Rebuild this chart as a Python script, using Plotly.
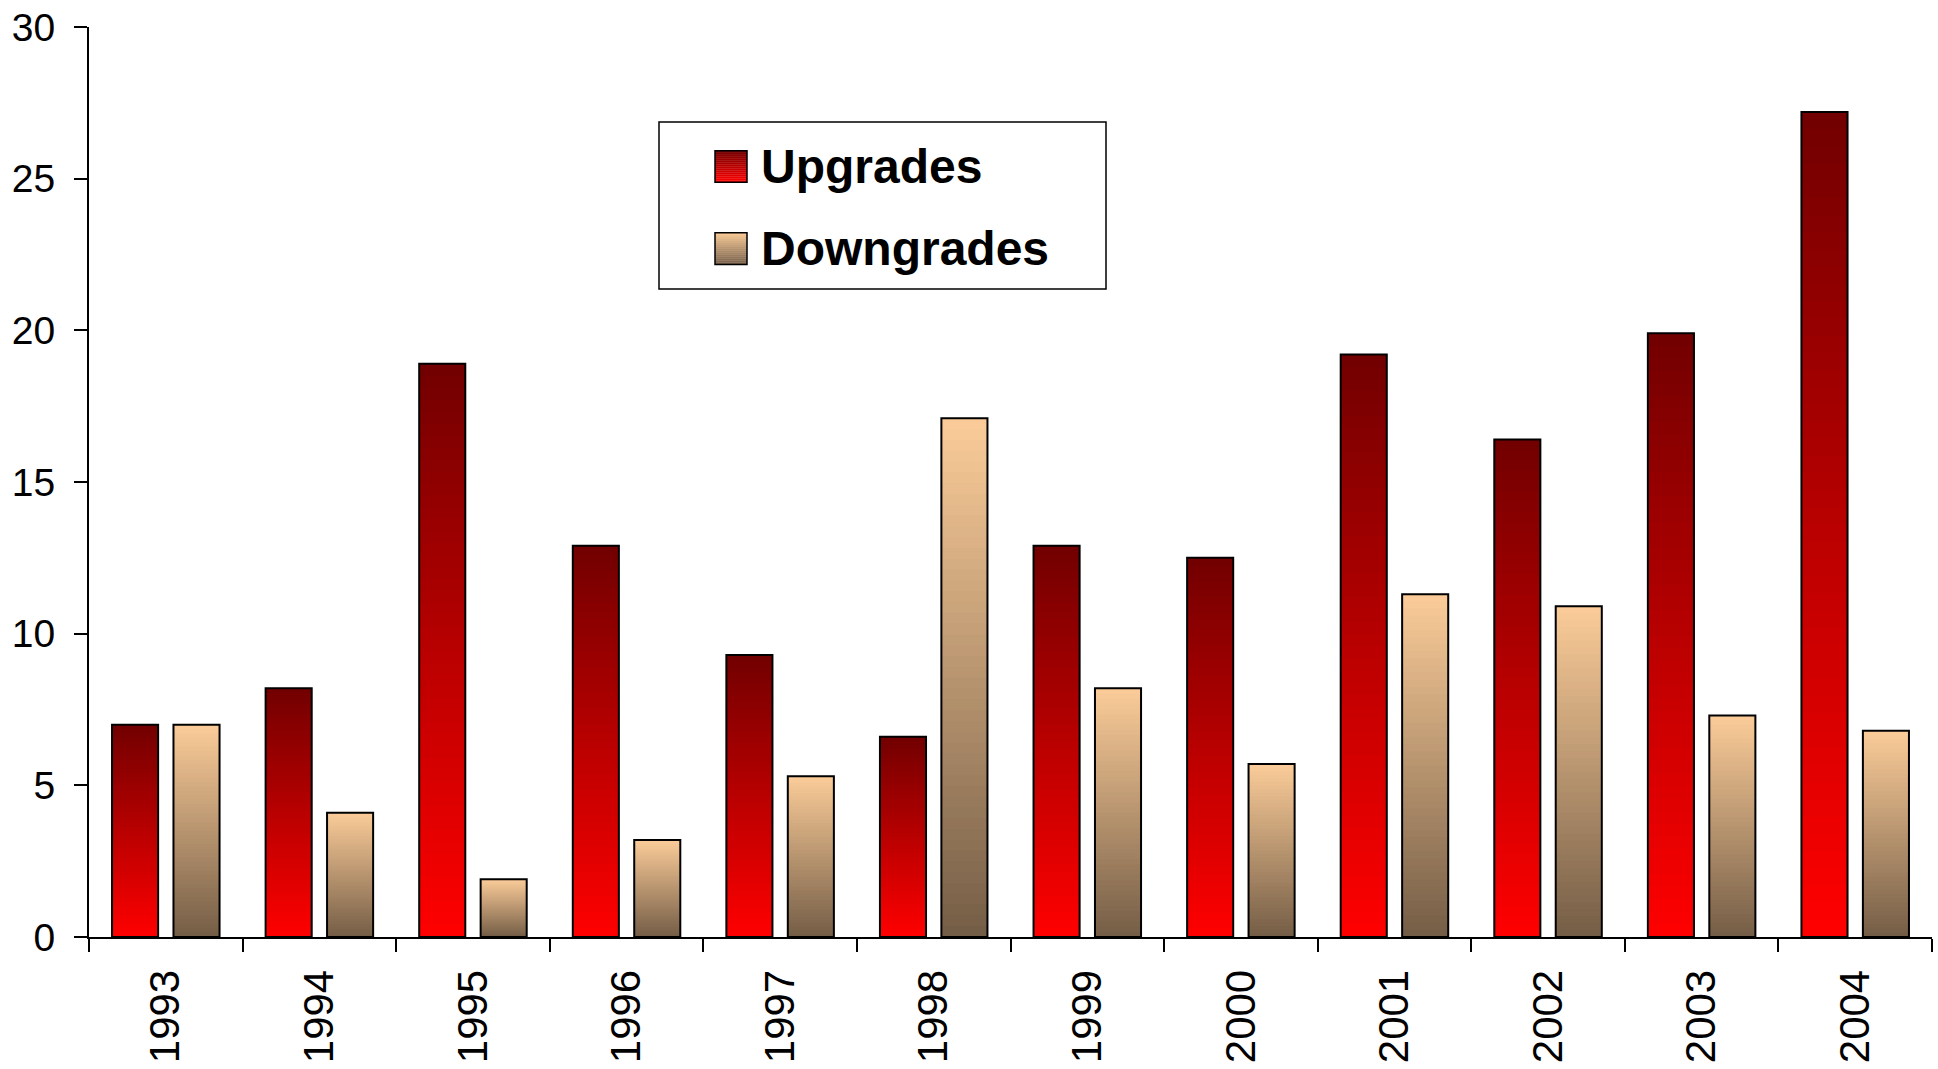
import plotly.graph_objects as go

# ---------------- data ----------------
years = ["1993", "1994", "1995", "1996", "1997", "1998",
         "1999", "2000", "2001", "2002", "2003", "2004"]
upgrades = [7.0, 8.2, 18.9, 12.9, 9.3, 6.6, 12.9, 12.5, 19.2, 16.4, 19.9, 27.2]
downgrades = [7.0, 4.1, 1.9, 3.2, 5.3, 17.1, 8.2, 5.7, 11.3, 10.9, 7.3, 6.8]
series_names = ["Upgrades", "Downgrades"]
y_ticks = [0, 5, 10, 15, 20, 25, 30]

# ---------------- style ----------------
W, H = 1938, 1069
ML, MR, MT, MB = 89, 6, 22, 127
UP_BOTTOM, UP_TOP = (255, 0, 0), (114, 0, 0)
DN_BOTTOM, DN_TOP = (116, 93, 70), (251, 204, 153)
N_STEPS = 48
BAR_W = 0.30
FONT = "Liberation Sans, Arial, sans-serif"


def mix(c0, c1, t):
    return "rgb(%d,%d,%d)" % tuple(round(a + (b - a) * t) for a, b in zip(c0, c1))


def px_x(px):
    return (px - ML) / (W - ML - MR)


def px_y(py):
    return (H - MB - py) / (H - MT - MB)


fig = go.Figure()

specs = [
    (upgrades, -0.35, UP_BOTTOM, UP_TOP),
    (downgrades, 0.05, DN_BOTTOM, DN_TOP),
]

for vals, off, cb, ct in specs:
    # gradient: overlapping bars from full height down
    for k in range(N_STEPS):
        frac = (N_STEPS - k) / N_STEPS
        t = (N_STEPS - k - 0.5) / N_STEPS
        fig.add_trace(go.Bar(
            x=years, y=[v * frac for v in vals], base=0,
            offset=off, width=BAR_W,
            marker=dict(color=mix(cb, ct, t), line=dict(width=0)),
            showlegend=False, hoverinfo="skip",
        ))
    # outline
    fig.add_trace(go.Bar(
        x=years, y=vals, base=0, offset=off, width=BAR_W,
        marker=dict(color="rgba(0,0,0,0)", line=dict(color="black", width=2)),
        showlegend=False, hoverinfo="skip",
    ))

# ---------------- custom legend ----------------
shapes = []
annotations = []
shapes.append(dict(type="rect", xref="paper", yref="paper",
                   x0=px_x(659), x1=px_x(1106), y0=px_y(287), y1=px_y(118),
                   line=dict(color="black", width=1.5), fillcolor="white", layer="above"))

legend_items = [
    (series_names[0], 147, 179, UP_BOTTOM, UP_TOP, 163),
    (series_names[1], 230, 262, DN_BOTTOM, DN_TOP, 246),
]
n_sw = 16
for name, top, bot, cb, ct, ty in legend_items:
    hgt = (bot - top) / n_sw
    for i in range(n_sw):
        t = 1 - (i + 0.5) / n_sw
        shapes.append(dict(type="rect", xref="paper", yref="paper",
                           x0=px_x(715), x1=px_x(747),
                           y0=px_y(top + (i + 1) * hgt + 0.3), y1=px_y(top + i * hgt),
                           line=dict(width=0), fillcolor=mix(cb, ct, t), layer="above"))
    shapes.append(dict(type="rect", xref="paper", yref="paper",
                       x0=px_x(715), x1=px_x(747), y0=px_y(bot), y1=px_y(top),
                       line=dict(color="black", width=1.5), fillcolor="rgba(0,0,0,0)",
                       layer="above"))
    annotations.append(dict(text="<b>%s</b>" % name, xref="paper", yref="paper",
                            x=px_x(759), y=px_y(ty), xanchor="left", yanchor="middle",
                            showarrow=False, font=dict(family=FONT, size=48, color="black")))

fig.update_layout(
    width=W, height=H,
    margin=dict(l=ML, r=MR, t=MT, b=MB, pad=0),
    barmode="overlay",
    plot_bgcolor="white", paper_bgcolor="white",
    showlegend=False,
    shapes=shapes, annotations=annotations,
    font=dict(family=FONT, color="black"),
)

fig.update_xaxes(
    type="category", categoryorder="array", categoryarray=years,
    showline=True, linecolor="black", linewidth=2,
    ticks="outside", tickson="boundaries", ticklen=13, tickwidth=2, tickcolor="black",
    tickangle=-90, tickfont=dict(family=FONT, size=42, color="black"),
    ticklabelstandoff=14,
    showgrid=False, zeroline=False,
)
fig.update_yaxes(
    range=[0, 30], tickvals=y_ticks, ticktext=[str(v) for v in y_ticks],
    showline=True, linecolor="black", linewidth=2,
    ticks="outside", ticklen=13, tickwidth=2, tickcolor="black",
    tickfont=dict(family=FONT, size=39, color="black"),
    ticklabelstandoff=11, ticklabeloverflow="allow",
    showgrid=False, zeroline=False,
)

fig.write_html("out.html")
